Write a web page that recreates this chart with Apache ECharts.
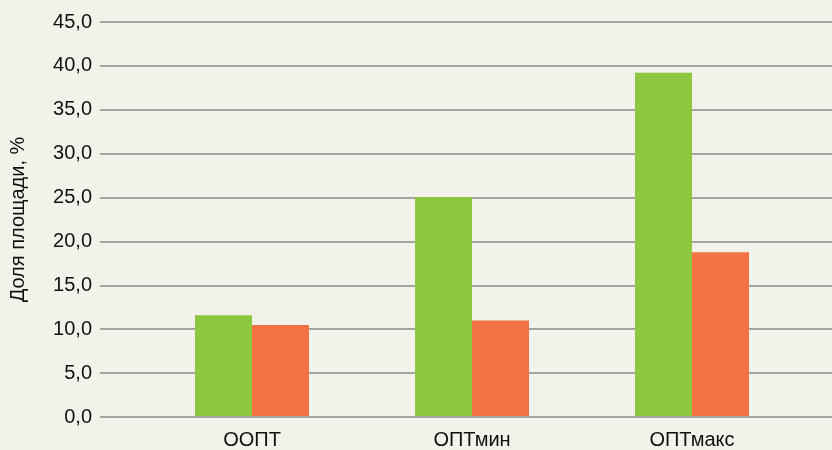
<!DOCTYPE html>
<html>
<head>
<meta charset="utf-8">
<script src="https://cdn.jsdelivr.net/npm/echarts@6/dist/echarts.min.js"></script>
<style>
  html, body { margin: 0; padding: 0; background: #f2f1ea; }
  #chart { width: 832px; height: 450px; }
</style>
</head>
<body>
<div id="chart"></div>
<script>
// категории и значения (доля площади, %)
const categories = ['ООПТ', 'ОПТмин', 'ОПТмакс']
const greenValues = [11.5, 25.0, 39.2]
const orangeValues = [10.4, 10.9, 18.7]

const font = '"Liberation Sans", Arial, sans-serif'
const fmt = (v) => v.toFixed(1).replace('.', ',')

const myChart = echarts.init(document.getElementById('chart'), null, { renderer: 'canvas' })

const option = {
  backgroundColor: '#f2f1ea',
  animation: false,
  // grid 0 - сетка и ось Y, grid 1 - столбцы
  grid: [
    { left: 99, right: -10, top: 22, bottom: 33 },
    { left: 142, right: 30, top: 22, bottom: 33 }
  ],
  xAxis: [
    {
      gridIndex: 0,
      type: 'category',
      data: [''],
      show: false
    },
    {
      gridIndex: 1,
      type: 'category',
      data: categories,
      axisLine: { show: false },
      axisTick: { show: false },
      axisLabel: {
        margin: 14,
        color: '#111',
        fontSize: 20,
        fontFamily: font
      }
    }
  ],
  yAxis: [
    {
      gridIndex: 0,
      type: 'value',
      min: 0,
      max: 45,
      interval: 5,
      name: 'Доля площади, %',
      nameLocation: 'middle',
      nameGap: 72,
      nameTextStyle: { color: '#111', fontSize: 20, fontFamily: font },
      axisLine: { show: false },
      axisTick: { show: false },
      axisLabel: {
        margin: 8,
        color: '#111',
        fontSize: 20,
        fontFamily: font,
        formatter: fmt
      },
      splitLine: { lineStyle: { color: '#a4a4a4', width: 2 } }
    },
    {
      gridIndex: 1,
      type: 'value',
      min: 0,
      max: 45,
      interval: 5,
      show: false,
      splitLine: { show: false }
    }
  ],
  series: [
    {
      type: 'bar',
      xAxisIndex: 1,
      yAxisIndex: 1,
      data: greenValues,
      barWidth: 57,
      barGap: '0%',
      itemStyle: { color: '#8dc63f' }
    },
    {
      type: 'bar',
      xAxisIndex: 1,
      yAxisIndex: 1,
      data: orangeValues,
      barWidth: 57,
      barGap: '0%',
      itemStyle: { color: '#f37244' }
    }
  ]
}

myChart.setOption(option)
</script>
</body>
</html>
